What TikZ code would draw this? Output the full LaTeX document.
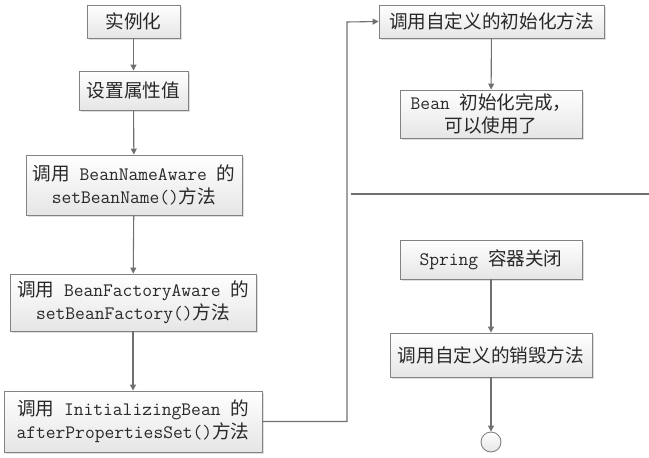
\documentclass[tikz,border=0pt]{standalone}
\usepackage{fontspec}
\newfontfamily\cjk[Scale=0.98]{Noto Sans CJK SC}
\usetikzlibrary{arrows.meta,shadows}
\definecolor{linegray}{RGB}{112,112,112}
\definecolor{boxgray}{RGB}{130,130,130}
\definecolor{textgray}{RGB}{40,40,40}
\newcommand{\zh}[1]{{\cjk #1}}

\tikzset{
    stepbox/.style={draw=boxgray, line width=0.9pt, inner sep=0pt,
        top color=white, bottom color=black!10, align=center,
        text=textgray, font=\ttfamily\fontsize{19}{23}\selectfont,
        drop shadow={shadow xshift=1.5pt, shadow yshift=-1.5pt,
            opacity=0.25, fill=gray}},
    flow/.style={draw=linegray, line width=1.1pt,
        -{Triangle[length=6pt,width=6pt]}}
}

\begin{document}
\begin{tikzpicture}[x=1pt, y=-1pt]
    \useasboundingbox (0,0) rectangle (649,458);
    % left column
    \node[stepbox, minimum width=93pt, minimum height=33pt] (inst) at (133.5,21.5) {\zh{实例化}};
    \node[stepbox, minimum width=109pt, minimum height=39pt] (props) at (133.5,90.5) {\zh{设置属性值}};
    \node[stepbox, minimum width=216pt, minimum height=60pt] (nameaware) at (134,185)
        {\zh{调用} BeanNameAware \zh{的}\\setBeanName()\zh{方法}};
    \node[stepbox, minimum width=246pt, minimum height=57pt] (factoryaware) at (133,302.5)
        {\zh{调用} BeanFactoryAware \zh{的}\\setBeanFactory()\zh{方法}};
    \node[stepbox, minimum width=258pt, minimum height=61pt] (initbean) at (133,421.5)
        {\zh{调用} InitializingBean \zh{的}\\afterPropertiesSet()\zh{方法}};
    % right column
    \node[stepbox, minimum width=225pt, minimum height=33pt] (initmethod) at (491.5,21.5) {\zh{调用自定义的初始化方法}};
    \node[stepbox, minimum width=182pt, minimum height=48pt] (ready) at (491,114)
        {Bean \zh{初始化完成，}\\\zh{可以使用了}};
    \node[stepbox, minimum width=182pt, minimum height=39pt] (close) at (491,259.5)
        {Spring \zh{容器关闭}};
    \node[stepbox, minimum width=202pt, minimum height=44pt] (destroy) at (491,355) {\zh{调用自定义的销毁方法}};
    \node[circle, draw=boxgray, line width=0.9pt, minimum size=20pt, inner sep=0pt,
        top color=white, bottom color=black!10] (stop) at (491,442) {};

    \foreach \a/\b in {inst/props, props/nameaware, nameaware/factoryaware,
        factoryaware/initbean, initmethod/ready, close/destroy, destroy/stop}
        \draw[flow] (\a) -- (\b);
    \draw[flow] (initbean.east) -| (347,22) -- (initmethod.west);

    % separator
    \coordinate (sepl) at (351,194);
    \coordinate (sepr) at (649,194);
    \draw[linegray, line width=1.1pt] (sepl) -- (sepr);
\end{tikzpicture}
\end{document}
